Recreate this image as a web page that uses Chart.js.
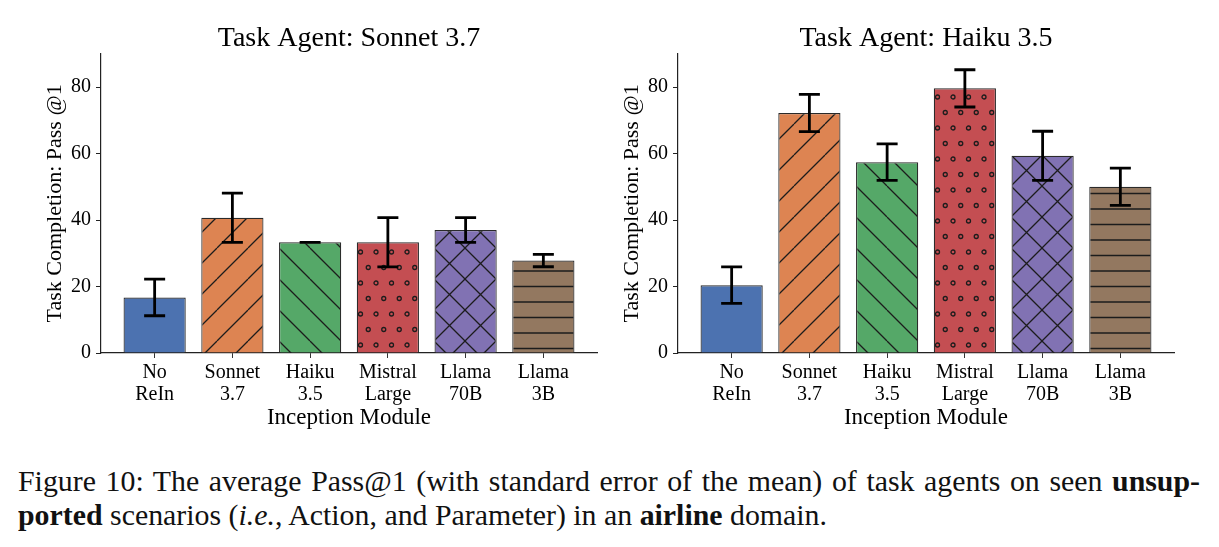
<!DOCTYPE html>
<html>
<head>
<meta charset="utf-8">
<script src="https://cdn.jsdelivr.net/npm/chart.js@4.4.1/dist/chart.umd.min.js"></script>
<style>
  body { margin: 0; background: #fff; width: 1219px; height: 547px; overflow: hidden; position: relative; font-family: "Liberation Serif", serif; }
  canvas { position: absolute; top: 0; }
  #leftChart { left: 0; }
  #rightChart { left: 577px; }
  #caption { position: absolute; left: 18px; top: 465px; font-size: 28.5px; line-height: 34px; color: #111; transform-origin: 0 0; white-space: nowrap; }
</style>
</head>
<body>
<canvas id="leftChart" width="698" height="440"></canvas>
<canvas id="rightChart" width="698" height="440"></canvas>
<div id="caption">
  <div><span id="line1">Figure 10: The average Pass@1 (with standard error of the mean) of task agents on seen <b>unsup-</b></span></div>
  <div><span id="line2"><b>ported</b> scenarios (<i>i.e.</i>, Action, and Parameter) in an <b>airline</b> domain.</span></div>
</div>
<script>
// data
const categories = [["No", "ReIn"], ["Sonnet", "3.7"], ["Haiku", "3.5"], ["Mistral", "Large"], ["Llama", "70B"], ["Llama", "3B"]];
const sonnetMeans = [16.7, 40.7, 33.3, 33.3, 37.0, 27.8];
const sonnetErrors = [5.5, 7.4, 0, 7.4, 3.7, 1.85];
const haikuMeans = [20.4, 72.2, 57.4, 79.6, 59.3, 50.0];
const haikuErrors = [5.5, 5.6, 5.5, 5.6, 7.4, 5.6];
const yTicks = [0, 20, 40, 60, 80];
const barColors = ["#4C72B0", "#DD8452", "#55A868", "#C44E52", "#8172B3", "#937860"];
const hatches = ["", "/", "\\", "o", "x", "-"];

const serif = "'Liberation Serif', 'Times New Roman', serif";

// hatch fill like matplotlib's hatch patterns
function hatchFill(color, kind) {
    if (!kind) return color;
    const s = 31;
    const c = document.createElement("canvas");
    c.width = s;
    c.height = s;
    const g = c.getContext("2d");
    g.fillStyle = color;
    g.fillRect(0, 0, s, s);
    g.strokeStyle = "#1c1c1c";
    g.lineWidth = 1.3;
    g.beginPath();
    if (kind === "/" || kind === "x") {
        for (let k = -1; k <= 1; k++) { g.moveTo(k * s, s); g.lineTo(k * s + s, 0); }
    }
    if (kind === "\\" || kind === "x") {
        for (let k = -1; k <= 1; k++) { g.moveTo(k * s, 0); g.lineTo(k * s + s, s); }
    }
    if (kind === "-") {
        g.moveTo(0, 7.5); g.lineTo(s, 7.5);
        g.moveTo(0, 23); g.lineTo(s, 23);
    }
    g.stroke();
    if (kind === "o") {
        const pts = [[4, 4], [19.5, 4], [11.75, 19.5], [27.25, 19.5]];
        pts.forEach(([px, py]) => {
            for (let dx = -s; dx <= s; dx += s) {
                for (let dy = -s; dy <= s; dy += s) {
                    g.beginPath();
                    g.arc(px + dx, py + dy, 2, 0, Math.PI * 2);
                    g.stroke();
                }
            }
        });
    }
    return g.createPattern(c, "repeat");
}

const errorBars = {
    id: "errorBars",
    afterDatasetsDraw(chart, args, opts) {
        const { ctx, scales: { y } } = chart;
        const meta = chart.getDatasetMeta(0);
        const ds = chart.data.datasets[0].data;
        ctx.save();
        ctx.strokeStyle = "#000";
        ctx.lineWidth = 2.8;
        meta.data.forEach((bar, i) => {
            const v = ds[i].y;
            const e = opts.errors[i];
            const top = y.getPixelForValue(v + e);
            const bot = y.getPixelForValue(v - e);
            ctx.beginPath();
            ctx.moveTo(bar.x, top);
            ctx.lineTo(bar.x, bot);
            ctx.moveTo(bar.x - opts.cap, top);
            ctx.lineTo(bar.x + opts.cap, top);
            ctx.moveTo(bar.x - opts.cap, bot);
            ctx.lineTo(bar.x + opts.cap, bot);
            ctx.stroke();
        });
        ctx.restore();
    },
};

function makeChart(id, titleText, means, errors) {
    const ctx = document.getElementById(id).getContext("2d");
    return new Chart(ctx, {
        type: "bar",
        data: {
            datasets: [{
                data: means.map((v, i) => ({ x: i, y: v })),
                backgroundColor: barColors.map((c, i) => hatchFill(c, hatches[i])),
                borderColor: "#2a2a2a",
                borderWidth: 1.2,
                categoryPercentage: 1,
                barPercentage: 0.8,
            }],
        },
        options: {
            responsive: false,
            animation: false,
            events: [],
            layout: { padding: 0 },
            plugins: {
                legend: { display: false },
                tooltip: { enabled: false },
                title: {
                    display: true,
                    text: titleText,
                    color: "#000",
                    font: { family: serif, size: 28, weight: "normal", lineHeight: 1.1 },
                    padding: { top: 23, bottom: 0 },
                },
                errorBars: { errors: errors, cap: 10.5 },
            },
            scales: {
                x: {
                    type: "linear",
                    min: -0.69,
                    max: 5.69,
                    offset: false,
                    grid: { drawOnChartArea: false, drawTicks: true, tickLength: 5, tickColor: "#333", offset: false },
                    border: { display: true, color: "#222", width: 1.2 },
                    afterBuildTicks: (s) => { s.ticks = categories.map((c, i) => ({ value: i })); },
                    afterFit: (s) => { s.height = 87; },
                    ticks: {
                        autoSkip: false,
                        maxRotation: 0,
                        padding: 4,
                        color: "#000",
                        font: { family: serif, size: 20, lineHeight: 1.08 },
                        callback: (v) => categories[v],
                    },
                    title: {
                        display: true,
                        text: "Inception Module",
                        color: "#000",
                        font: { family: serif, size: 23 },
                        padding: { top: 0, bottom: 8 },
                    },
                },
                y: {
                    min: 0,
                    max: 90,
                    afterBuildTicks: (s) => { s.ticks = yTicks.map((v) => ({ value: v })); },
                    afterFit: (s) => { s.width = 101; },
                    grid: { drawOnChartArea: false, drawTicks: true, tickLength: 5, tickColor: "#222" },
                    border: { display: true, color: "#222", width: 1.2 },
                    ticks: { padding: 5, color: "#000", font: { family: serif, size: 20 } },
                    title: {
                        display: true,
                        text: "Task Completion: Pass @1",
                        color: "#000",
                        font: { family: serif, size: 22 },
                        padding: { top: 42, bottom: 0 },
                    },
                },
                // empty right-hand axis so the title centres over the plot
                spacer: {
                    position: "right",
                    display: true,
                    grid: { display: false },
                    border: { display: false },
                    ticks: { display: false },
                    afterFit: (s) => { s.width = 101; },
                },
            },
        },
        plugins: [errorBars],
    });
}

makeChart("leftChart", "Task Agent: Sonnet 3.7", sonnetMeans, sonnetErrors);
makeChart("rightChart", "Task Agent: Haiku 3.5", haikuMeans, haikuErrors);

// fit the caption to the figure width
const line1 = document.getElementById("line1");
const line2 = document.getElementById("line2");
const sx = 809 / line2.getBoundingClientRect().width;
const w1 = line1.getBoundingClientRect().width;
const spaces = line1.textContent.split(" ").length - 1;
line1.style.wordSpacing = ((1182 / sx - w1) / spaces) + "px";
document.getElementById("caption").style.transform = "scaleX(" + sx + ")";
</script>
</body>
</html>
